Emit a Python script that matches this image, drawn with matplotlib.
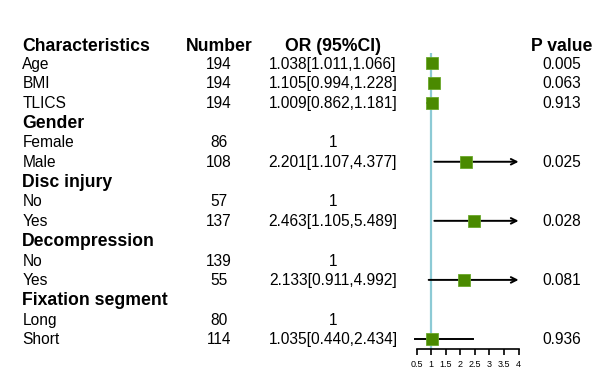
import numpy as np
import matplotlib
matplotlib.use('Agg')
import matplotlib.pyplot as plt
import matplotlib.transforms as mtransforms

plt.rcParams['font.family'] = ['Liberation Sans', 'DejaVu Sans']

# table rows (top to bottom)
labels = ['Age', 'BMI', 'TLICS', 'Gender', 'Female', 'Male', 'Disc injury', 'No', 'Yes',
          'Decompression', 'No', 'Yes', 'Fixation segment', 'Long', 'Short']
is_group = [False, False, False, True, False, False, True, False, False,
            True, False, False, True, False, False]
numbers = ['194', '194', '194', '', '86', '108', '', '57', '137', '', '139', '55', '', '80', '114']
or_text = ['1.038[1.011,1.066]', '1.105[0.994,1.228]', '1.009[0.862,1.181]', '',
           '1', '2.201[1.107,4.377]', '', '1', '2.463[1.105,5.489]', '',
           '1', '2.133[0.911,4.992]', '', '1', '1.035[0.440,2.434]']
or_est = [1.038, 1.105, 1.009, np.nan, np.nan, 2.201, np.nan, np.nan, 2.463,
          np.nan, np.nan, 2.133, np.nan, np.nan, 1.035]
or_lo = [1.011, 0.994, 0.862, np.nan, np.nan, 1.107, np.nan, np.nan, 1.105,
         np.nan, np.nan, 0.911, np.nan, np.nan, 0.440]
or_hi = [1.066, 1.228, 1.181, np.nan, np.nan, 4.377, np.nan, np.nan, 5.489,
         np.nan, np.nan, 4.992, np.nan, np.nan, 2.434]
p_text = ['0.005', '0.063', '0.913', '', '', '0.025', '', '', '0.028',
          '', '', '0.081', '', '', '0.936']
headers = ['Characteristics', 'Number', 'OR (95%CI)', 'P value']
xticks = [0.5, 1, 1.5, 2, 2.5, 3, 3.5, 4]
x_max = 4

fig = plt.figure(figsize=(6.01, 3.85), dpi=100)
ax = fig.add_axes([0.674, 0.0927, 0.2082, 0.7696])
rows = np.arange(1, len(labels) + 1)
ax.set_xlim(0.1, 4.4)
ax.set_ylim(15.525, 0.477)

ax.axvline(1, color='#8ccad5', lw=1.6, zorder=1)

for y, est, lo, hi in zip(rows, or_est, or_lo, or_hi):
    if np.isnan(est):
        continue
    if hi > x_max:
        ax.annotate('', xy=(x_max, y), xytext=(lo, y),
                    arrowprops=dict(arrowstyle='->', lw=1.4, color='black',
                                    shrinkA=0, shrinkB=0, mutation_scale=10),
                    zorder=2)
    else:
        ax.plot([lo, hi], [y, y], color='black', lw=1.4, zorder=2)
    ax.plot(est, y, marker='s', ms=8.3, color='#4a8a00', mec='#6aa82a', mew=0.6, zorder=3)

for s in ['top', 'right', 'left']:
    ax.spines[s].set_visible(False)
ax.spines['bottom'].set_bounds(0.5, 4)
ax.spines['bottom'].set_linewidth(1.2)
ax.set_yticks([])
ax.set_xticks(xticks)
ax.set_xticklabels([('%g' % t) for t in xticks], fontsize=6.5)
ax.tick_params(axis='x', length=4.5, width=1.2, pad=3.5)

tr = mtransforms.blended_transform_factory(fig.transFigure, ax.transData)
x_lab, x_num, x_or, x_p = 0.0371, 0.3644, 0.554, 0.935
fs = 11.2
fsb = 12.7

hy = 0.14
ax.text(x_lab, hy, headers[0], transform=tr, ha='left', va='center', fontsize=fsb, fontweight='bold', clip_on=False)
ax.text(x_num, hy, headers[1], transform=tr, ha='center', va='center', fontsize=fsb, fontweight='bold', clip_on=False)
ax.text(x_or, hy, headers[2], transform=tr, ha='center', va='center', fontsize=fsb, fontweight='bold', clip_on=False)
ax.text(x_p, hy, headers[3], transform=tr, ha='center', va='center', fontsize=fsb, fontweight='bold', clip_on=False)

for y, lab, grp, num, ort, pt in zip(rows, labels, is_group, numbers, or_text, p_text):
    ax.text(x_lab, y + 0.04, lab, transform=tr, ha='left', va='center',
            fontsize=fsb if grp else fs, fontweight='bold' if grp else 'normal', clip_on=False)
    ax.text(x_num, y + 0.04, num, transform=tr, ha='center', va='center', fontsize=fs, clip_on=False)
    ax.text(x_or, y + 0.04, ort, transform=tr, ha='center', va='center', fontsize=fs, clip_on=False)
    ax.text(x_p, y + 0.04, pt, transform=tr, ha='center', va='center', fontsize=fs, clip_on=False)

fig.savefig('out.png', dpi=100)
